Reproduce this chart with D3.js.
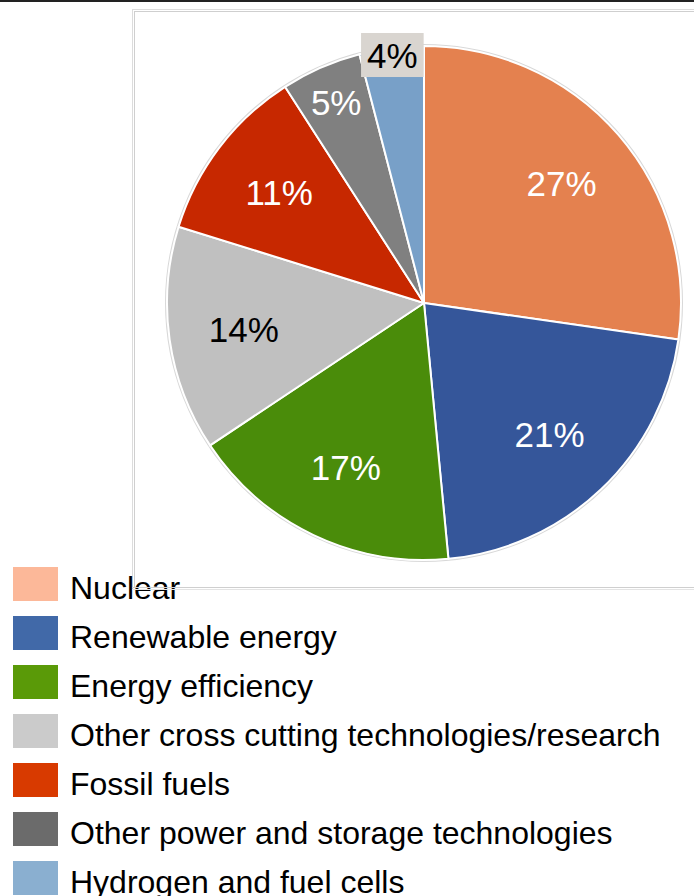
<!DOCTYPE html>
<html>
<head>
<meta charset="utf-8">
<script src="https://cdn.jsdelivr.net/npm/d3@7"></script>
<style>
  html, body { margin: 0; padding: 0; background: #fff; }
  svg { display: block; font-family: "Liberation Sans", Arial, sans-serif; }
</style>
</head>
<body>
<svg id="chart" width="694" height="896"></svg>
<script>
// Share of energy R&D spending by technology area (%)
const categories = [
  "Nuclear",
  "Renewable energy",
  "Energy efficiency",
  "Other cross cutting technologies/research",
  "Fossil fuels",
  "Other power and storage technologies",
  "Hydrogen and fuel cells"
];
const shares = [27, 21, 17, 14, 11, 5, 4];
const sliceColors = ["#e4814f", "#35569a", "#4a8c0a", "#c0c0c0", "#c72800", "#808080", "#78a0c8"];
const legendColors = ["#fcb899", "#4169a8", "#5a9a08", "#cbcbcb", "#d83a00", "#6b6b6b", "#8aafd0"];
const labelColors = ["#fff", "#fff", "#fff", "#000", "#fff", "#fff", "#000"];

const svg = d3.select("#chart");

// top rule
svg.append("rect").attr("x", 0).attr("y", 0).attr("width", 694).attr("height", 2).attr("fill", "#222");

// plot frame (double light border)
svg.append("rect").attr("x", 132.5).attr("y", 9.5).attr("width", 600).attr("height", 580)
  .attr("fill", "none").attr("stroke", "#dcdcdc");
svg.append("rect").attr("x", 134.5).attr("y", 11.5).attr("width", 600).attr("height", 576)
  .attr("fill", "none").attr("stroke", "#cfcfcf");

const cx = 424, cy = 303, R = 257;
const g = svg.append("g").attr("transform", `translate(${cx},${cy})`);

const pie = d3.pie().sort(null).value(d => d)
  .startAngle(0).endAngle(2 * Math.PI);
const arcs = pie(shares);
const arc = d3.arc().innerRadius(0).outerRadius(R);

// soft rim around the pie
g.append("circle").attr("r", R + 1).attr("fill", "none").attr("stroke", "#d8d8d8").attr("stroke-width", 2);

g.selectAll("path.slice").data(arcs).join("path")
  .attr("class", "slice")
  .attr("d", arc)
  .attr("fill", (d, i) => sliceColors[i])
  .attr("stroke", "#fff")
  .attr("stroke-width", 2)
  .attr("stroke-linejoin", "round");

// labels: thin slices get their label pushed toward the rim
function labelRadius(d) {
  const span = d.endAngle - d.startAngle;
  if (span > 0.6) return 182;
  if (span > 0.3) return 219;
  return 250;
}
const labels = g.selectAll("g.lbl").data(arcs).join("g")
  .attr("class", "lbl")
  .attr("transform", d => {
    const a = (d.startAngle + d.endAngle) / 2;
    const r = labelRadius(d);
    return `translate(${r * Math.sin(a)},${-r * Math.cos(a)})`;
  });

labels.each(function (d, i) {
  const sel = d3.select(this);
  const txt = sel.append("text")
    .attr("text-anchor", "middle")
    .attr("dy", "0.36em")
    .attr("font-size", 35)
    .attr("fill", labelColors[i])
    .text(d.value + "%");
  if (labelRadius(d) > 230) {
    const bb = txt.node().getBBox();
    sel.insert("rect", "text")
      .attr("x", bb.x - 6).attr("y", -22)
      .attr("width", bb.width + 12).attr("height", 44)
      .attr("fill", "#d9d5d0");
  }
});

// legend
const legend = svg.append("g").attr("transform", "translate(13,567)");
const rows = legend.selectAll("g").data(categories).join("g")
  .attr("transform", (d, i) => `translate(0,${i * 49})`);
rows.append("rect").attr("width", 45).attr("height", 34).attr("fill", (d, i) => legendColors[i]);
rows.append("text").attr("x", 57).attr("y", 32).attr("font-size", 32).attr("fill", "#000").text(d => d);

// frame bottom line is drawn over the first legend entry
svg.append("line").attr("x1", 132).attr("x2", 694).attr("y1", 587.5).attr("y2", 587.5).attr("stroke", "#cfcfcf");
svg.append("line").attr("x1", 132).attr("x2", 694).attr("y1", 589.5).attr("y2", 589.5).attr("stroke", "#e4e4e4");
</script>
</body>
</html>
